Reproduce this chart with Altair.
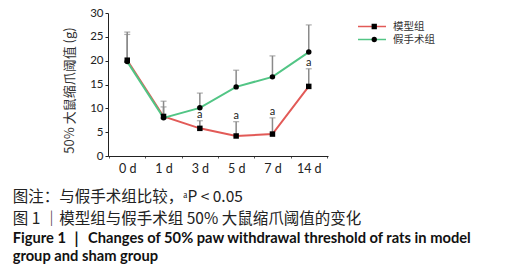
import altair as alt
import pandas as pd

days = ["0 d", "1 d", "3 d", "5 d", "7 d", "14 d"]
groups = ["模型组", "假手术组"]
model_mean = [20.1, 8.3, 5.8, 4.2, 4.6, 14.6]
model_top = [25.5, 10.3, 7.4, 7.2, 8.0, 18.3]
sham_mean = [19.8, 8.0, 10.1, 14.5, 16.6, 21.8]
sham_top = [26.0, 11.5, 13.2, 18.0, 21.0, 27.5]
sig_marks = ["", "", "a", "a", "a", "a"]
y_ticks = [0, 5, 10, 15, 20, 25, 30]
colors = ["#e25a57", "#52c585"]

rows = []
for g, means, tops in [(groups[0], model_mean, model_top), (groups[1], sham_mean, sham_top)]:
    for d, m, t in zip(days, means, tops):
        rows.append({"day": d, "group": g, "marker": g, "mean": m, "top": t})
df = pd.DataFrame(rows)
sig_df = pd.DataFrame({"day": days, "top": model_top, "sig": sig_marks})
sig_df = sig_df[sig_df["sig"] != ""]

x = alt.X("day:N", sort=days, title=None,
          scale=alt.Scale(paddingInner=0, paddingOuter=0.03),
          axis=alt.Axis(labelAngle=0, tickBand="extent", tickSize=2, labelPadding=4,
                        labelFont="Lato", labelFontSize=12.5, labelColor="#222",
                        domainColor="#222", tickColor="#555"))
yscale = alt.Scale(domain=[0, 30], nice=False)
yaxis = alt.Axis(values=y_ticks, tickSize=3, labelPadding=2,
                 labelOverlap=False, labelFlush=False,
                 labelFont="Lato", labelFontSize=11.5, labelColor="#222",
                 domainColor="#222", tickColor="#222", grid=False,
                 title="50% 大鼠缩爪阈值 (g)", titleFont="Noto Sans CJK SC",
                 titleFontSize=13, titleFontWeight="normal", titleColor="#333",
                 titlePadding=13, titleY=77)


def yenc(field):
    return alt.Y(field, scale=yscale, axis=yaxis)


err = alt.Chart(df).mark_rule(color="#8a8a8a", strokeWidth=1.5).encode(
    x=x, y=yenc("mean:Q"), y2="top:Q")
cap = alt.Chart(df).mark_tick(color="#8a8a8a", size=6, thickness=1.2).encode(
    x=x, y=yenc("top:Q"))

line_legend = alt.Legend(
    title=None, orient="none", legendX=249, legendY=7, padding=0,
    symbolType="stroke", symbolSize=784, symbolStrokeWidth=1.5, clipHeight=13, rowPadding=0,
    labelFont="Noto Sans CJK SC", labelFontSize=10.5, labelColor="#333", labelOffset=6)
marker_legend = alt.Legend(
    title=None, orient="none", legendX=261, legendY=7, padding=0,
    symbolSize=28, symbolFillColor="black", symbolStrokeColor="black", symbolStrokeWidth=0,
    clipHeight=13, rowPadding=0, labelExpr="''",
    labelFont="Noto Sans CJK SC", labelFontSize=10.5, labelOffset=6)

line = alt.Chart(df).mark_line(strokeWidth=2).encode(
    x=x, y=yenc("mean:Q"),
    color=alt.Color("group:N", sort=groups,
                    scale=alt.Scale(domain=groups, range=colors), legend=line_legend))
pts = alt.Chart(df).mark_point(filled=True, color="black", opacity=1, size=30).encode(
    x=x, y=yenc("mean:Q"),
    shape=alt.Shape("marker:N", sort=groups,
                    scale=alt.Scale(range=["square", "circle"]), legend=marker_legend))
txt = alt.Chart(sig_df).mark_text(fontSize=11, font="Lato", color="#222", baseline="alphabetic", dy=-3).encode(
    x=x, y=yenc("top:Q"), text="sig:N")

chart = alt.layer(err, cap, line, pts, txt).properties(
    width=220, height=143,
    autosize=alt.AutoSizeParams(type="none"),
    padding={"left": 100, "top": 5, "right": 192, "bottom": 112},
    title=alt.Title(
        text=["图注：与假手术组比较，ᵃP < 0.05", "图 1 ｜模型组与假手术组 50% 大鼠缩爪阈值的变化"],
        subtitle=["Figure 1 ｜ Changes of 50% paw withdrawal threshold of rats in model", "group and sham group"],
        orient="bottom", anchor="start", frame="bounds", dx=-51, offset=15,
        font="Noto Sans CJK SC", fontSize=15.5, fontWeight="normal", color="#222", lineHeight=22,
        subtitleFont="Lato", subtitleFontSize=14.7, subtitleFontWeight="bold", subtitleColor="#111",
        subtitleLineHeight=18, subtitlePadding=4)
).configure_view(stroke=None)

chart.save("out.html", embed_options={"renderer": "svg", "actions": False})
